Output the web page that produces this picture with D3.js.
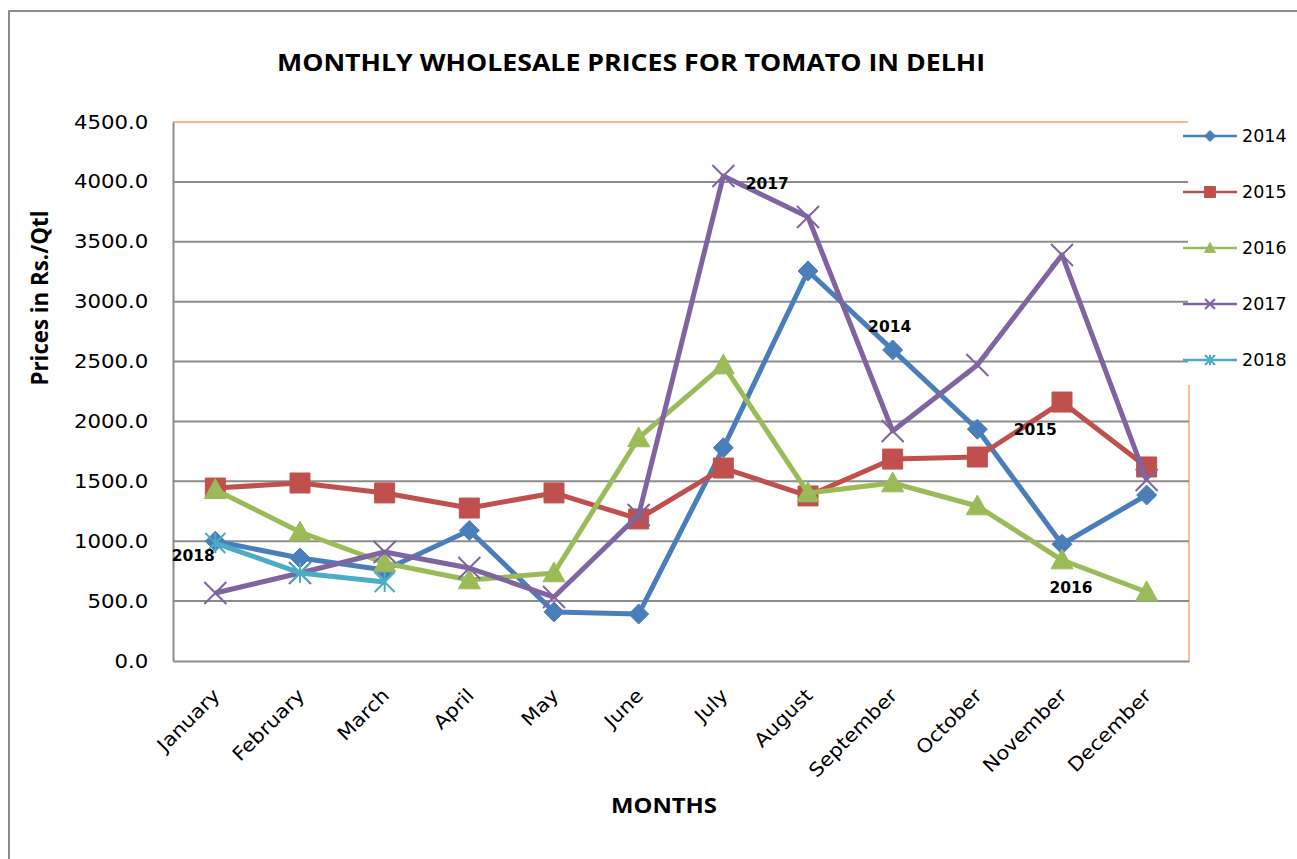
<!DOCTYPE html>
<html>
<head>
<meta charset="utf-8">
<script src="https://cdn.jsdelivr.net/npm/d3@7"></script>
<style>
  body { margin: 0; background: #fff; }
  svg { display: block; }
</style>
</head>
<body>
<svg id="chart"></svg>
<script>
// data van de grafiek
let months = ["January", "February", "March", "April", "May", "June", "July", "August", "September", "October", "November", "December"];
let years = ["2014", "2015", "2016", "2017", "2018"];
let prices2014 = [1000, 860, 760, 1090, 410, 392, 1780, 3256, 2597, 1935, 975, 1386];
let prices2015 = [1444, 1486, 1403, 1277, 1403, 1186, 1611, 1378, 1686, 1703, 2162, 1620];
let prices2016 = [1430, 1077, 818, 676, 735, 1862, 2471, 1403, 1486, 1294, 843, 576];
let prices2017 = [568, 735, 910, 776, 534, 1219, 4049, 3707, 1920, 2471, 3390, 1511];
let prices2018 = [985, 735, 660];
let yTicks = [0, 500, 1000, 1500, 2000, 2500, 3000, 3500, 4000, 4500];
let colors = ["#4A7EBB", "#C0504D", "#9BBB59", "#8064A2", "#4BACC6"];
let shapes = ["diamond", "square", "triangle", "cross", "star"];

// labels in het plot: welk jaar, bij welke maand, en welke waarde
let labelYears = ["2018", "2017", "2014", "2015", "2016"];
let labelMonths = ["January", "July", "September", "October", "November"];
let labelValues = [880, 3990, 2790, 1930, 617];

let allSeries = [prices2014, prices2015, prices2016, prices2017, prices2018];

let svgWidth = 1297, svgHeight = 859;
let plot = { left: 173, right: 1189, top: 122, bottom: 661 };

let svg = d3.select("#chart")
    .attr("width", svgWidth)
    .attr("height", svgHeight);

// buitenste rand
svg.append("path")
    .attr("d", "M9,859V11H1297")
    .attr("fill", "none")
    .attr("stroke", "#8c8c8c")
    .attr("stroke-width", 2);

let x = d3.scaleBand()
    .domain(months)
    .range([plot.left, plot.right]);

let y = d3.scaleLinear()
    .domain([0, 4500])
    .range([plot.bottom, plot.top]);

// orange rand rechts
svg.append("line")
    .attr("x1", plot.right).attr("x2", plot.right)
    .attr("y1", plot.top).attr("y2", plot.bottom)
    .attr("stroke", "#F9C09A")
    .attr("stroke-width", 2);

// gridlijnen
svg.append("g")
    .selectAll("line")
    .data(yTicks.filter(d => d > 0 && d < 4500))
    .enter()
    .append("line")
    .attr("x1", plot.left)
    .attr("x2", plot.right)
    .attr("y1", d => y(d))
    .attr("y2", d => y(d))
    .attr("stroke", "#8c8c8c")
    .attr("stroke-width", 2);

svg.append("line")
    .attr("x1", plot.left).attr("x2", plot.right)
    .attr("y1", y(4500)).attr("y2", y(4500))
    .attr("stroke", "#F9B68C")
    .attr("stroke-width", 2);

// y as
let yAxis = svg.append("g")
    .attr("transform", "translate(" + plot.left + ",0)")
    .call(d3.axisLeft(y).tickValues(yTicks).tickFormat(d3.format(".1f")).tickSize(0).tickPadding(22));
yAxis.select(".domain").attr("stroke", "#8c8c8c").attr("stroke-width", 2);
yAxis.selectAll("text")
    .attr("font-family", "DejaVu Sans, Verdana, sans-serif")
    .attr("font-size", 19)
    .attr("fill", "#000")
    .attr("transform", "scale(1.12,1)");

// x as
let xAxis = svg.append("g")
    .attr("transform", "translate(0," + plot.bottom + ")")
    .call(d3.axisBottom(x).tickSize(0).tickSizeOuter(0));
xAxis.select(".domain").attr("stroke", "#8c8c8c").attr("stroke-width", 2);
xAxis.selectAll("text")
    .attr("font-family", "DejaVu Sans, Verdana, sans-serif")
    .attr("font-size", 19)
    .attr("fill", "#000")
    .attr("text-anchor", "end")
    .attr("transform", "translate(1,31) rotate(-45) scale(1.1,1)")
    .attr("dy", "0.35em")
    .attr("y", 0);

// marker vormen
function markerPath(shape, size) {
    let s = size / 2;
    if (shape == "diamond") return "M0," + (-s) + "L" + s + ",0L0," + s + "L" + (-s) + ",0Z";
    if (shape == "square") return "M" + (-s) + "," + (-s) + "h" + size + "v" + size + "h" + (-size) + "Z";
    if (shape == "triangle") return "M0," + (-s) + "L" + s + "," + (s * 0.8) + "L" + (-s) + "," + (s * 0.8) + "Z";
    if (shape == "cross") return "M" + (-s) + "," + (-s) + "L" + s + "," + s + "M" + (-s) + "," + s + "L" + s + "," + (-s);
    // star (asterisk)
    return "M" + (-s) + "," + (-s) + "L" + s + "," + s + "M" + (-s) + "," + s + "L" + s + "," + (-s) + "M0," + (-s) + "V" + s;
}

function drawMarker(g, shape, color, size) {
    let filled = shape == "diamond" || shape == "square" || shape == "triangle";
    g.append("path")
        .attr("d", markerPath(shape, size))
        .attr("fill", filled ? color : "none")
        .attr("stroke", color)
        .attr("stroke-width", filled ? 1 : 2);
}

let markerSizes = [20, 20, 22, 22, 20];

let line = d3.line()
    .x((d, i) => x(months[i]) + x.bandwidth() / 2)
    .y(d => y(d));

allSeries.forEach((series, k) => {
    let g = svg.append("g");
    g.append("path")
        .datum(series)
        .attr("d", line)
        .attr("fill", "none")
        .attr("stroke", colors[k])
        .attr("stroke-width", 5)
        .attr("stroke-linejoin", "round");

    g.selectAll(".pt")
        .data(series)
        .enter()
        .append("g")
        .attr("transform", (d, i) => "translate(" + (x(months[i]) + x.bandwidth() / 2) + "," + y(d) + ")")
        .each(function () {
            drawMarker(d3.select(this), shapes[k], colors[k], markerSizes[k]);
        });
});

// jaar labels in de grafiek
svg.append("g")
    .selectAll("text")
    .data(labelYears)
    .enter()
    .append("text")
    .attr("x", (d, i) => x(labelMonths[i]) + x.bandwidth() / 2)
    .attr("y", (d, i) => y(labelValues[i]))
    .attr("dx", (d, i) => [-22, 44, -3, 58, 9][i])
    .attr("text-anchor", "middle")
    .attr("dy", "0.35em")
    .attr("font-family", "DejaVu Sans, Verdana, sans-serif")
    .attr("font-weight", "bold")
    .attr("font-size", 15.5)
    .text(d => d);

// legenda
let legend = svg.append("g");
legend.append("rect")
    .attr("x", plot.right - 1)
    .attr("y", 112)
    .attr("width", svgWidth - plot.right)
    .attr("height", 273)
    .attr("fill", "#fff");

years.forEach((yr, k) => {
    let ly = 136 + k * 56;
    let item = legend.append("g");
    item.append("line")
        .attr("x1", 1183).attr("x2", 1237)
        .attr("y1", ly).attr("y2", ly)
        .attr("stroke", colors[k])
        .attr("stroke-width", 2.5);
    let m = item.append("g").attr("transform", "translate(1210," + ly + ")");
    drawMarker(m, shapes[k], colors[k], [11, 11, 11, 10, 10][k]);
    item.append("text")
        .attr("x", 1242)
        .attr("y", ly)
        .attr("dy", "0.35em")
        .attr("font-family", "DejaVu Sans, Verdana, sans-serif")
        .attr("font-size", 17.5)
        .text(yr);
});

// titels
svg.append("text")
    .attr("x", 631)
    .attr("y", 71)
    .attr("text-anchor", "middle")
    .attr("font-family", "Open Sans, sans-serif")
    .attr("font-weight", "bold")
    .attr("font-size", 24)
    .attr("textLength", 708)
    .attr("lengthAdjust", "spacingAndGlyphs")
    .text("MONTHLY WHOLESALE PRICES FOR TOMATO IN DELHI");

svg.append("text")
    .attr("x", 664)
    .attr("y", 813)
    .attr("text-anchor", "middle")
    .attr("font-family", "Open Sans, sans-serif")
    .attr("font-weight", "bold")
    .attr("font-size", 22)
    .attr("textLength", 106)
    .attr("lengthAdjust", "spacingAndGlyphs")
    .text("MONTHS");

svg.append("text")
    .attr("transform", "translate(48,298) rotate(-90)")
    .attr("text-anchor", "middle")
    .attr("font-family", "Open Sans, sans-serif")
    .attr("font-weight", "bold")
    .attr("font-size", 23)
    .attr("textLength", 175)
    .attr("lengthAdjust", "spacingAndGlyphs")
    .text("Prices in Rs./Qtl");
</script>
</body>
</html>
